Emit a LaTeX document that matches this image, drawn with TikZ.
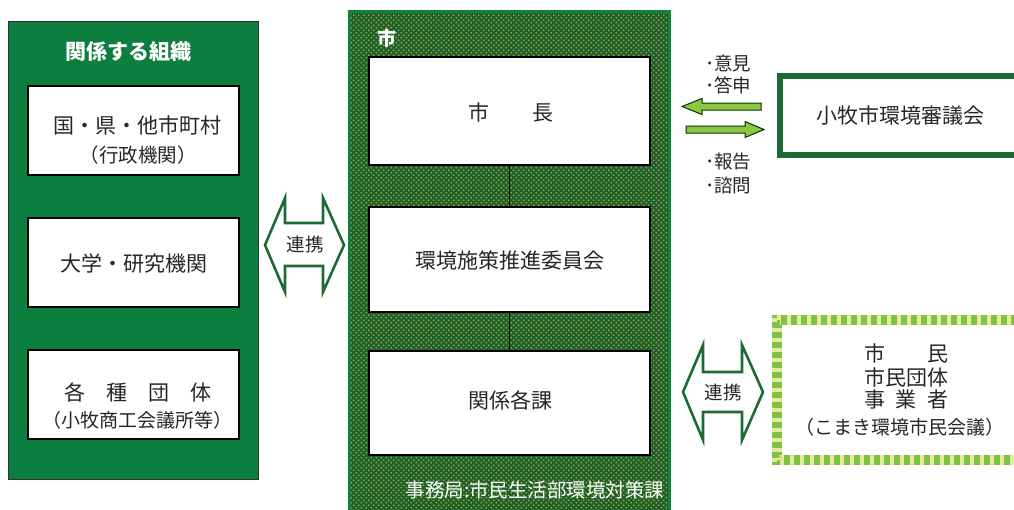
\documentclass[tikz,border=0pt]{standalone}
\usepackage{fontspec}
\setmainfont{Noto Sans CJK JP}
\usetikzlibrary{patterns}
\definecolor{leftgreen}{HTML}{0C7F3E}
\definecolor{citybase}{HTML}{1A622B}
\definecolor{citydot}{HTML}{BFA845}
\definecolor{cityborder}{HTML}{12803E}
\definecolor{darkgreen}{HTML}{1D6A34}
\definecolor{lightgreen}{HTML}{8DC63F}
\definecolor{checkgreen}{HTML}{7DC242}
\definecolor{checkyellow}{HTML}{E6EAA0}
\definecolor{txt}{HTML}{262626}
\pgfdeclarepatternformonly{citydots}{\pgfqpoint{-1pt}{-1pt}}{\pgfqpoint{6pt}{6pt}}{\pgfqpoint{5pt}{5pt}}{%
  \pgfpathcircle{\pgfqpoint{1.25pt}{1.25pt}}{0.8pt}%
  \pgfpathcircle{\pgfqpoint{3.75pt}{3.75pt}}{0.8pt}%
  \pgfusepath{fill}}
\newcommand{\fbig}{\fontsize{21}{25}\selectfont}
\newcommand{\fmid}{\fontsize{18.5}{22}\selectfont}
\newcommand{\fparen}{\fontsize{19.5}{23}\selectfont}
\newcommand{\fsmall}{\fontsize{19}{22}\selectfont}
\tikzset{
  wbox/.style={draw=black, line width=1.2pt, fill=white, inner sep=0, minimum width=#1},
  lbl/.style={text=txt, inner sep=0, align=center},
  wlbl/.style={text=white, inner sep=0, font=\fbig\bfseries},
  arrowfill/.style={fill=lightgreen, draw=black!80!green, line width=1pt, line join=miter},
  linkarrow/.style={fill=white, draw=darkgreen, line width=2.6pt, line join=miter},
}
\begin{document}
\begin{tikzpicture}[x=1pt,y=-1pt]
\useasboundingbox (0,0) rectangle (1014,509);
\begin{scope}
\clip (0,0) rectangle (1014,509);
% left organisation box
\node[draw=black!80, line width=1pt, fill=leftgreen, minimum width=250pt, minimum height=458pt, inner sep=0] (orgs) at (133,250) {};
\node[wlbl, font=\fontsize{21}{24}\selectfont\bfseries] (orgstitle) at (128,52) {関係する組織};
\node[wbox=211pt, minimum height=89pt] (gov) at (133.5,130.5) {};
\node[wbox=211pt, minimum height=89pt] (univ) at (133.5,262.5) {};
\node[wbox=211pt, minimum height=89pt] (groups) at (133.5,394.5) {};
\node[lbl, font=\fbig] (govt1) at (137,125) {国・県・他市町村};
\node[lbl, font=\fparen] (govt2) at (138,155) {（行政機関）};
\node[lbl, font=\fbig] (univt) at (133.5,264) {大学・研究機関};
\node[lbl, font=\fbig] (groupst1) at (138,392) {各　種　団　体};
\node[lbl, font=\fsmall] (groupst2) at (137.5,420) {（小牧商工会議所等）};

% city box
\path[fill=citybase] (349.5,11.5) rectangle (669.5,515);
\path[pattern=citydots, pattern color=citydot] (349.5,11.5) rectangle (669.5,515);
\draw[cityborder, line width=3pt] (349.5,11.5) rectangle (669.5,515);
\node[wlbl, font=\fontsize{19}{22}\selectfont\bfseries] (citytitle) at (387,38) {市};
\node[wbox=281pt, minimum height=108pt] (mayor) at (509.5,111) {};
\node[wbox=281pt, minimum height=105pt] (committee) at (509.5,259.5) {};
\node[wbox=281pt, minimum height=104pt] (depts) at (509.5,403) {};
\draw[black, line width=1pt] (mayor.south) -- (committee.north);
\draw[black, line width=1pt] (committee.south) -- (depts.north);
\node[lbl, font=\fbig] (mayort) at (511,112) {市\hspace{2.05em}長};
\node[lbl, font=\fbig] (committeet) at (510,261) {環境施策推進委員会};
\node[lbl, font=\fbig] (deptst) at (510,400) {関係各課};
\node[text=white, inner sep=0, font=\fontsize{19.5}{23}\selectfont] (secretariat) at (535,490) {事務局:市民生活部環境対策課};

% council
\draw[darkgreen, line width=6pt] (780,76) rectangle (1030,155);
\node[lbl, font=\fbig] (council) at (900,116) {小牧市環境審議会};
\draw[arrowfill] (682,106.5) -- (702,98.5) -- (702,103) -- (761,103) -- (761,110) -- (702,110) -- (702,114.5) -- cycle;
\draw[arrowfill] (764,129.5) -- (745,121.5) -- (745,126) -- (686,126) -- (686,133) -- (745,133) -- (745,137.5) -- cycle;
\node[lbl, font=\fmid, anchor=west] (opinion) at (705,63) {･意見};
\node[lbl, font=\fmid, anchor=west] (answer) at (705,85) {･答申};
\node[lbl, font=\fmid, anchor=west] (report) at (705,162) {･報告};
\node[lbl, font=\fmid, anchor=west] (inquiry) at (705,185) {･諮問};

% citizens box
\draw[checkgreen, line width=10pt] (777,320) rectangle (1030,460);
\draw[checkyellow, line width=5pt, dash pattern=on 4pt off 6pt] (774.5,317.5) rectangle (1032.5,462.5);
\draw[checkyellow, line width=5pt, dash pattern=on 4pt off 6pt, dash phase=5pt] (779.5,322.5) rectangle (1027.5,457.5);
\node[lbl, font=\fbig] (cit1) at (906,353) {市　　民};
\node[lbl, font=\fbig] (cit2) at (906,377) {市民団体};
\node[lbl, font=\fbig] (cit3) at (906,400) {事\hspace{0.5em}業\hspace{0.5em}者};
\node[lbl, font=\fsmall] (cit4) at (900,427) {（こまき環境市民会議）};

% link arrows
\draw[linkarrow] (265,245) -- (285,198) -- (285,223) -- (323,223) -- (323,198) -- (344,245) -- (323,292) -- (323,266) -- (285,266) -- (285,292) -- cycle;
\node[lbl, font=\fmid] (link1) at (305,244) {連携};
\draw[linkarrow] (683,392) -- (703,345) -- (703,372) -- (742,372) -- (742,345) -- (763,392) -- (742,440) -- (742,412) -- (703,412) -- (703,440) -- cycle;
\node[lbl, font=\fmid] (link2) at (723,392) {連携};
\end{scope}
\end{tikzpicture}
\end{document}
